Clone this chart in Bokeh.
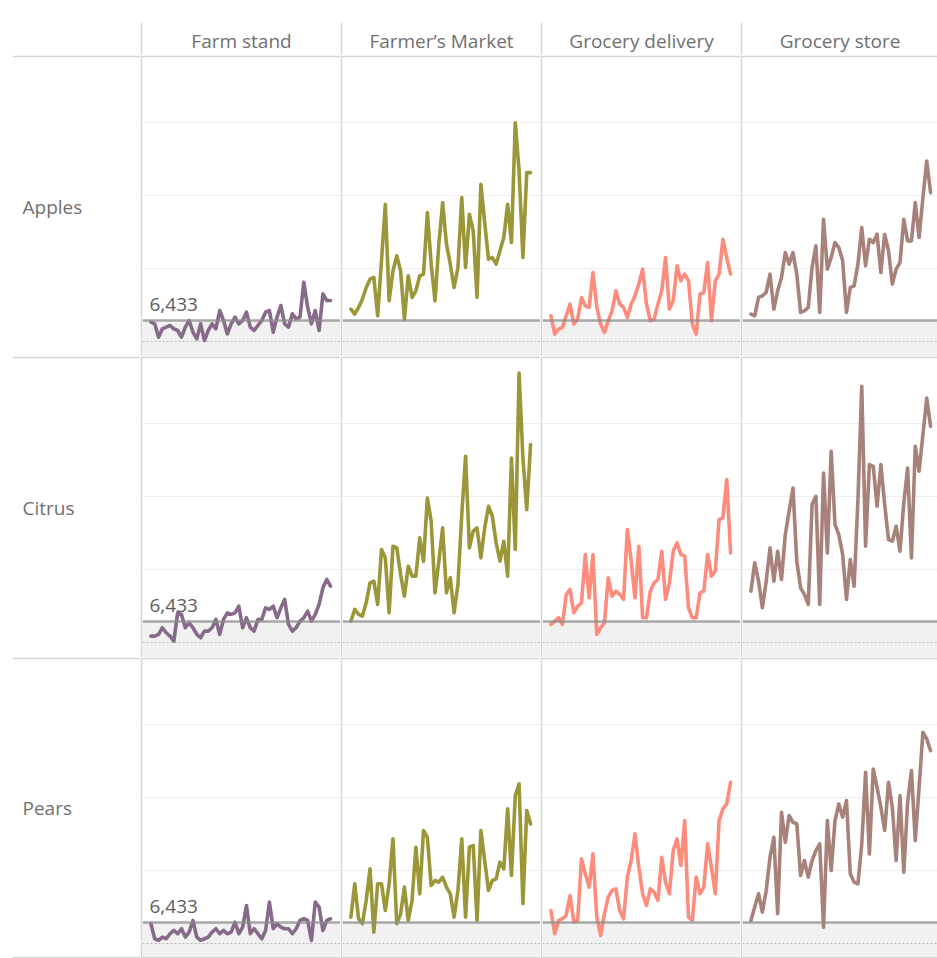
from bokeh.plotting import figure
from bokeh.layouts import gridplot, column, row
from bokeh.models import Span, BoxAnnotation, Label, Range1d, Spacer
from bokeh.embed import file_html
from bokeh.resources import INLINE

# ---------------- data ----------------
products = ["Apples", "Citrus", "Pears"]
channels = ["Farm stand", "Farmer\u2019s Market", "Grocery delivery", "Grocery store"]
channel_colors = ["#876a8a", "#9b9637", "#fd8c7c", "#a8827a"]
reference_value = 6433
lower_line_value = 5000
grid_values = [10000, 15000, 20000]
months = list(range(48))

farm_stand_apples = [6324, 6210, 5297, 5868, 5982, 6096, 5868, 5753, 5297, 5982, 6438, 5639, 5183, 6210, 5068, 5753,
                     6210, 5868, 7123, 6438, 5525, 6210, 6667, 6210, 6438, 7009, 5982, 5753, 6096, 6438, 7009, 7123,
                     5639, 6667, 7466, 6210, 5982, 6895, 6552, 6667, 9064, 7352, 6210, 7123, 5753, 8265, 7808, 7808]
farmers_market_apples = [7218, 6876, 7332, 7902, 8700, 9270, 9384, 6762, 10524, 14400, 7788, 9840, 10866, 9840, 6534, 9498,
                         8016, 8472, 9498, 9612, 13830, 10296, 7788, 11664, 14514, 11664, 10296, 8700, 10068, 14856, 10068, 13716,
                         12576, 8016, 15768, 13146, 10638, 10752, 10296, 11208, 12120, 14400, 11778, 19986, 16680, 10752, 16566, 16566]
grocery_delivery_apples = [6762, 5508, 5850, 5964, 6762, 7560, 6192, 6534, 8016, 7446, 7332, 9726, 7332, 6192, 5622, 6420,
                           7104, 8472, 7560, 7332, 6648, 7560, 8130, 8928, 9954, 7560, 6420, 6534, 7560, 8472, 10752, 7218,
                           7788, 10182, 9156, 9612, 9156, 6192, 5508, 8244, 8358, 10410, 6420, 9156, 9612, 12006, 10752, 9612]
grocery_store_apples = [6876, 6762, 8016, 8130, 8358, 9612, 7218, 8472, 9384, 11094, 10296, 11094, 9612, 6990, 7104, 7332,
                        10068, 11550, 6990, 13374, 9954, 10752, 11778, 11436, 10524, 6990, 8700, 8814, 10296, 12804, 10182, 12006,
                        11778, 12348, 9726, 12348, 11208, 8928, 9954, 10410, 13374, 11892, 11892, 14514, 12120, 14856, 17364, 15198]

farm_stand_citrus = [5440, 5440, 5554, 6010, 5668, 5440, 5098, 7036, 6922, 6010, 6352, 6010, 5554, 5326, 5782, 5782,
                     6010, 6580, 5554, 6580, 7036, 6922, 7036, 7492, 6010, 6694, 6010, 5782, 6580, 6580, 7378, 7264,
                     7492, 6694, 7378, 7948, 6238, 5782, 6010, 6466, 6694, 7150, 6466, 6922, 7606, 8746, 9316, 8860]
farmers_market_citrus = [6466, 7264, 6922, 6808, 7720, 9088, 9202, 7606, 11368, 10798, 7036, 11596, 11482, 9658, 8176, 10228,
                         9544, 9544, 12166, 10570, 14902, 13306, 8404, 10570, 12850, 8404, 9430, 7036, 8974, 13762, 17752, 11482,
                         12622, 12850, 10798, 12850, 14332, 13648, 11824, 10570, 11938, 9544, 17638, 11368, 23452, 17638, 14104, 18550]
grocery_delivery_citrus = [6238, 6466, 6694, 6238, 8290, 8632, 7036, 7492, 7720, 11026, 8062, 11026, 5554, 6010, 6352, 9430,
                           8176, 8518, 8290, 7948, 12736, 10570, 8062, 11596, 6694, 6694, 8518, 9088, 9316, 11254, 7948, 9088,
                           11254, 11824, 11026, 10912, 7378, 6694, 6694, 8404, 8518, 11026, 9544, 9886, 13420, 13534, 16156, 11140]
grocery_store_citrus = [8518, 10456, 9202, 7378, 9202, 11482, 9202, 11254, 9316, 12394, 13990, 15586, 10570, 8746, 8290, 7606,
                        14446, 15016, 7606, 16612, 11140, 18094, 13078, 12394, 11026, 7948, 10684, 8860, 14788, 22540, 11596, 17182,
                        17068, 14332, 17182, 14446, 12052, 11938, 12964, 11254, 14560, 16954, 10798, 18436, 16726, 19234, 21742, 19804]

farm_stand_pears = [6352, 5326, 5212, 5440, 5326, 5668, 5896, 5668, 6010, 5440, 5782, 6580, 5440, 5212, 5326, 5440,
                    5782, 6010, 5668, 5896, 5668, 5782, 6466, 5668, 6124, 7606, 5668, 6010, 5668, 5326, 5896, 7834,
                    6010, 6352, 6124, 6010, 6010, 5668, 6010, 6580, 6694, 6580, 5212, 7834, 7492, 5896, 6580, 6694]
farmers_market_pears = [6808, 9088, 6694, 6352, 7948, 10114, 5782, 9088, 9088, 7264, 9088, 12166, 6352, 7036, 8860, 6580,
                        7948, 11596, 8404, 12736, 12280, 8974, 9316, 9202, 9544, 8860, 8404, 6808, 8632, 12166, 6808, 11596,
                        11710, 6580, 12736, 10684, 8632, 9316, 9430, 10570, 10114, 14218, 9658, 15130, 15928, 7720, 14104, 13192]
grocery_delivery_pears = [7264, 5668, 6580, 6694, 6922, 8290, 6466, 6580, 10798, 9772, 8860, 11140, 6808, 5554, 7036, 8176,
                          8632, 8746, 7264, 6694, 9544, 10684, 12508, 10228, 8404, 7606, 8746, 8518, 7948, 10912, 9202, 8404,
                          11368, 12166, 10342, 13420, 6808, 6580, 9544, 8404, 8860, 11824, 10228, 8404, 13420, 14218, 14560, 16042]
grocery_store_pears = [6580, 7492, 8404, 7150, 8632, 10912, 12280, 7036, 13990, 11938, 13762, 13306, 13192, 9658, 10684, 9544,
                       10684, 11368, 11824, 6124, 13420, 10000, 13420, 14560, 13648, 14788, 9772, 9202, 9088, 11824, 16726, 11140,
                       16954, 15700, 14332, 12736, 16042, 14332, 10684, 15130, 9886, 14674, 16840, 12052, 15700, 19462, 19006, 18208]

series = {
    "Apples": [farm_stand_apples, farmers_market_apples, grocery_delivery_apples, grocery_store_apples],
    "Citrus": [farm_stand_citrus, farmers_market_citrus, grocery_delivery_citrus, grocery_store_citrus],
    "Pears": [farm_stand_pears, farmers_market_pears, grocery_delivery_pears, grocery_store_pears],
}

# ---------------- style / layout ----------------
FONT = "Open Sans"
TEXT_COLOR = "#707070"
BORDER = "#d6d6d6"
LEFT_PAD = 12
TOP_PAD = 22
LABEL_W = 128
CELL_WIDTHS = [200, 200, 200, 197]
HEAD_H = 33
ROW_H = 301
BW = 2                      # border width
Y_LOW, Y_HIGH = 3973, 24452  # value range of a full 299px cell frame
X_LOW, X_HIGH = -2.2, 49.6   # index range of a full 198px cell frame
FULL_FRAME_H = ROW_H - BW
FULL_FRAME_W = 200 - BW


def base_fig(w, h, left=0, top=0, bottom=0, border=BORDER, xr=(0, 1), yr=(0, 1)):
    p = figure(width=w, height=h, tools="", toolbar_location=None, output_backend="svg",
               x_axis_type=None, y_axis_type=None, title=None,
               x_range=Range1d(*xr), y_range=Range1d(*yr),
               min_border_left=left, min_border_right=0, min_border_top=top, min_border_bottom=bottom,
               background_fill_color="white", border_fill_color=border, outline_line_color=None)
    return p


# header row
header_row = [base_fig(LABEL_W, HEAD_H, border="white")]
for c, ch in enumerate(channels):
    h = base_fig(CELL_WIDTHS[c], HEAD_H, left=BW)
    h.add_layout(Label(x=0.5, y=0.5, y_offset=-2, text=ch, text_align="center", text_baseline="middle",
                       text_font=FONT, text_font_size="19px", text_color=TEXT_COLOR))
    header_row.append(h)

rows = [header_row]
for r, prod in enumerate(products):
    last = r == len(products) - 1
    bb = BW if last else 0
    frame_h = ROW_H - BW - bb
    y_low = Y_HIGH - frame_h * (Y_HIGH - Y_LOW) / FULL_FRAME_H
    lab = base_fig(LABEL_W, ROW_H, top=BW, bottom=bb)
    lab.add_layout(Label(x=10, x_units="screen", y=0.5, text=prod, text_align="left",
                         text_baseline="middle", text_font=FONT, text_font_size="19px",
                         text_color=TEXT_COLOR))
    row_figs = [lab]
    for c, ch in enumerate(channels):
        frame_w = CELL_WIDTHS[c] - BW
        x_high = X_LOW + frame_w * (X_HIGH - X_LOW) / FULL_FRAME_W
        p = base_fig(CELL_WIDTHS[c], ROW_H, left=BW, top=BW, bottom=bb,
                     xr=(X_LOW, x_high), yr=(y_low, Y_HIGH))
        p.add_layout(BoxAnnotation(top=reference_value, fill_color="#f1f1f1", fill_alpha=1.0,
                                   line_color=None, level="underlay"))
        for g in grid_values:
            p.add_layout(Span(location=g, dimension="width", line_color="#ededed",
                              line_width=1, level="underlay"))
        p.add_layout(Span(location=lower_line_value, dimension="width", line_color="#b8b8b8",
                          line_width=1, line_dash="2 2", level="underlay"))
        p.line(months, series[prod][c], line_color=channel_colors[c], line_width=3.6,
               line_join="round", line_cap="round")
        p.add_layout(Span(location=reference_value, dimension="width", line_color="#8c8c8c",
                          line_alpha=0.75, line_width=2.5))
        if c == 0:
            p.add_layout(Label(x=7, x_units="screen", y=reference_value, y_offset=16,
                               text=f"{reference_value:,}", text_align="left",
                               text_baseline="alphabetic", text_font=FONT,
                               text_font_size="19px", text_color="#5c5c5c"))
        row_figs.append(p)
    rows.append(row_figs)

grid = gridplot(rows, toolbar_location=None)
layout = column(Spacer(width=10, height=TOP_PAD), row(Spacer(width=LEFT_PAD, height=10), grid))

open("out.html", "w").write(file_html(layout, INLINE))
